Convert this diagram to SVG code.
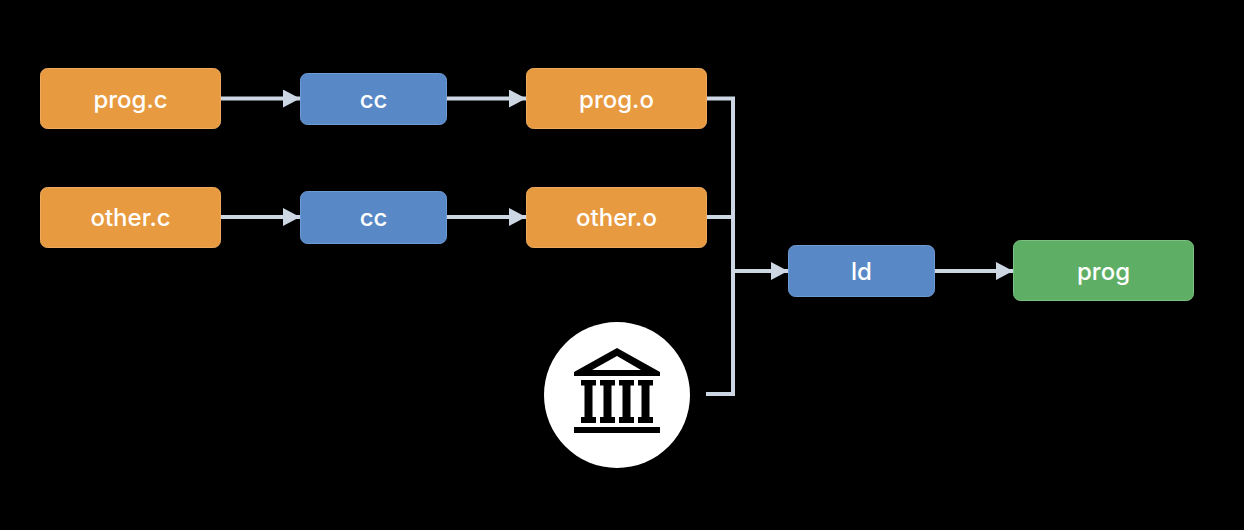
<svg xmlns="http://www.w3.org/2000/svg" width="1244" height="530" viewBox="0 0 1244 530">
<style>
.o{fill:#e89a40;stroke:#eeab60}
.b{fill:#5888c6;stroke:#6f9bd4}
.g{fill:#5fae66;stroke:#7cc282}
rect{stroke-width:1}
text{font-family:"Inter","Liberation Sans",sans-serif;font-size:24px;font-weight:500;fill:#fff;text-anchor:middle}
.c{fill:none;stroke:#cdd6e3;stroke-width:4}
.i{fill:#000}
</style>
<defs>
<marker id="a" markerUnits="userSpaceOnUse" markerWidth="18" markerHeight="18" refX="17" refY="9" orient="auto"><path d="M0 0L17 9L0 18Z" fill="#cdd6e3"/></marker>
</defs>
<rect width="1244" height="530" fill="#000"/>
<g id="connectors">
<path class="c" d="M221 98.500H300" marker-end="url(#a)"/>
<path class="c" d="M447 98.500H526" marker-end="url(#a)"/>
<path class="c" d="M221 217H300" marker-end="url(#a)"/>
<path class="c" d="M447 217H526" marker-end="url(#a)"/>
<path class="c" d="M707 98.500H733V394H706"/>
<path class="c" d="M707 217H731"/>
<path class="c" d="M735 271H788" marker-end="url(#a)"/>
<path class="c" d="M934 271H1013" marker-end="url(#a)"/>
</g>
<g id="prog-c"><rect class="o" x="40.500" y="68.500" width="180" height="60" rx="7"/><text x="130.500" y="108">prog.c</text></g>
<g id="cc-1"><rect class="b" x="300.500" y="73.500" width="146" height="51" rx="7"/><text x="373.500" y="108">cc</text></g>
<g id="prog-o"><rect class="o" x="526.500" y="68.500" width="180" height="60" rx="7"/><text x="616.500" y="108">prog.o</text></g>
<g id="other-c"><rect class="o" x="40.500" y="187.500" width="180" height="60" rx="7"/><text x="130.500" y="226">other.c</text></g>
<g id="cc-2"><rect class="b" x="300.500" y="191.500" width="146" height="52" rx="7"/><text x="373.500" y="226">cc</text></g>
<g id="other-o"><rect class="o" x="526.500" y="187.500" width="180" height="60" rx="7"/><text x="616.500" y="226">other.o</text></g>
<g id="ld"><rect class="b" x="788.500" y="245.500" width="146" height="51" rx="7"/><text x="861.500" y="280">ld</text></g>
<g id="prog"><rect class="g" x="1013.500" y="240.500" width="180" height="60" rx="7"/><text x="1103.500" y="280">prog</text></g>
<g id="library">
<circle cx="617" cy="395" r="73" fill="#fff"/>
<path class="i" fill-rule="evenodd" d="M617 348L660 372V376H574V372ZM617 356L592 370H641Z"/>
<path class="i" d="M581 380H596V385.500H592.500V417H596V423H581V417H584.500V385.500H581Z"/>
<path class="i" d="M600 380H615V385.500H611.500V417H615V423H600V417H603.500V385.500H600Z"/>
<path class="i" d="M619 380H634V385.500H630.500V417H634V423H619V417H622.500V385.500H619Z"/>
<path class="i" d="M638 380H653V385.500H649.500V417H653V423H638V417H641.500V385.500H638Z"/>
<rect class="i" x="574" y="427" width="86" height="6" stroke="none"/>
</g>
</svg>
